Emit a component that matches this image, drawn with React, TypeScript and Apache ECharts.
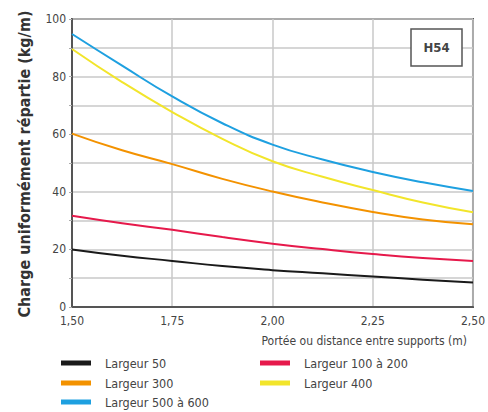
import React, { useEffect, useRef } from "react";
import * as echarts from "echarts";

const spans = [1.5, 1.625, 1.75, 1.875, 2.0, 2.125, 2.25, 2.375, 2.5];
const largeur50 = [20.0, 17.8, 16.0, 14.2, 12.8, 11.7, 10.6, 9.5, 8.5];
const largeur100a200 = [31.7, 29.1, 26.8, 24.3, 22.0, 20.1, 18.4, 17.0, 16.0];
const largeur300 = [60.2, 54.4, 49.6, 44.5, 40.1, 36.3, 33.0, 30.4, 28.7];
const largeur400 = [89.6, 78.1, 67.7, 58.4, 50.6, 45.2, 40.6, 36.3, 32.9];
const largeur500a600 = [94.8, 83.8, 73.1, 63.8, 56.4, 51.2, 46.9, 43.3, 40.3];

const seriesNames = ["Largeur 50", "Largeur 100 à 200", "Largeur 300", "Largeur 400", "Largeur 500 à 600"];
const seriesColors = ["#1a1a1a", "#e6194b", "#f39200", "#f2e52b", "#1ea0e0"];
const seriesValues = [largeur50, largeur100a200, largeur300, largeur400, largeur500a600];

// legend layout: [name, left, top]
const legendSlots: [string, number, number][] = [
  ["Largeur 50", 61, 356],
  ["Largeur 100 à 200", 260, 356],
  ["Largeur 300", 61, 376],
  ["Largeur 400", 260, 376],
  ["Largeur 500 à 600", 61, 395],
];

const FONT = "DejaVu Sans Condensed";

export default function App() {
  const ref = useRef<HTMLDivElement>(null);
  useEffect(() => {
    if (!ref.current) return;
    const chart = echarts.init(ref.current, undefined, { renderer: "svg" });
    const legendText = { fontFamily: FONT, fontSize: 12.5, color: "#444", lineHeight: 14, padding: [0, 0, 0, 9] };
    chart.setOption({
      animation: false,
      backgroundColor: "#fff",
      grid: { left: 72, top: 19, width: 401, height: 288, show: true, borderColor: "#555", borderWidth: 2 },
      xAxis: {
        type: "value",
        min: 1.5,
        max: 2.5,
        interval: 0.25,
        name: "Portée ou distance entre supports (m)",
        nameLocation: "end",
        nameGap: 0,
        nameTextStyle: { fontFamily: FONT, fontSize: 12, color: "#444", align: "right", verticalAlign: "top", padding: [28, 6, 0, 0] },
        axisLine: { show: true, lineStyle: { color: "#555", width: 2 } },
        axisTick: { show: false },
        axisLabel: {
          fontFamily: FONT,
          fontSize: 12,
          color: "#444",
          margin: 8,
          formatter: (v: number) => v.toFixed(2).replace(".", ","),
        },
        splitLine: { show: true, lineStyle: { color: "#c8c8c8", width: 1.5 } },
      },
      yAxis: {
        type: "value",
        min: 0,
        max: 100,
        interval: 10,
        axisLine: { show: true, lineStyle: { color: "#555", width: 2 } },
        axisTick: { show: true, length: 3, lineStyle: { color: "#aaa" } },
        axisLabel: {
          fontFamily: FONT,
          fontSize: 12,
          color: "#444",
          margin: 6,
          formatter: (v: number) => (v % 20 === 0 ? String(v) : ""),
        },
        splitLine: { show: true, lineStyle: { color: "#c8c8c8", width: 1.5 } },
      },
      legend: legendSlots.map(([name, left, top]) => ({
        orient: "horizontal",
        left,
        top,
        padding: 0,
        icon: "rect",
        itemWidth: 30,
        itemHeight: 5,
        textStyle: legendText,
        data: [name],
      })),
      graphic: [
        {
          type: "text",
          x: 24,
          y: 164,
          rotation: Math.PI / 2,
          style: {
            text: "Charge uniformément répartie (kg/m)",
            fontFamily: FONT,
            fontWeight: "bold",
            fontSize: 16,
            fill: "#333",
            align: "center",
            verticalAlign: "middle",
          },
        },
        {
          type: "rect",
          shape: { x: 411, y: 29, width: 51, height: 37 },
          style: { fill: "#fff", stroke: "#555", lineWidth: 1.5 },
          z: 10,
        },
        {
          type: "text",
          x: 436.5,
          y: 47.5,
          z: 11,
          style: {
            text: "H54",
            fontFamily: FONT,
            fontWeight: "bold",
            fontSize: 13,
            fill: "#444",
            align: "center",
            verticalAlign: "middle",
          },
        },
      ],
      series: seriesNames.map((name, i) => ({
        name,
        type: "line",
        smooth: 0.5,
        showSymbol: false,
        symbol: "none",
        color: seriesColors[i],
        lineStyle: { width: 2, color: seriesColors[i] },
        data: spans.map((x, j) => [x, seriesValues[i][j]]),
      })),
    });
    return () => chart.dispose();
  }, []);
  return <div ref={ref} style={{ position: "fixed", left: 0, top: 0, width: 488, height: 412 }} />;
}
